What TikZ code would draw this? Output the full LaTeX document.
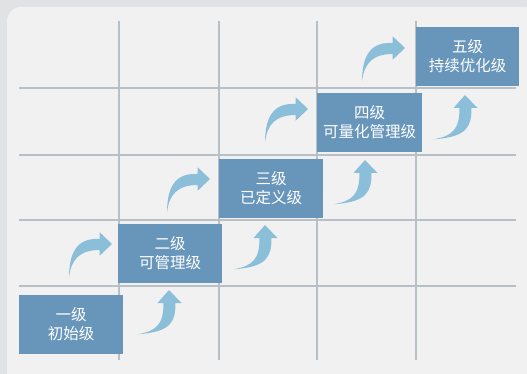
\documentclass[tikz,border=0pt]{standalone}
\usepackage{fontspec}
\newfontfamily\cjk{Noto Sans CJK SC}
\usepackage{tikz}

\definecolor{outerbg}{HTML}{E1E2E4}
\definecolor{panelbg}{HTML}{F1F1F1}
\definecolor{gridcol}{HTML}{B7C0C7}
\definecolor{boxcol}{HTML}{6896BB}
\definecolor{arrowcol}{HTML}{8BBED8}

\tikzset{
  levelbox/.style={fill=boxcol, text=white, anchor=north west, inner sep=0pt,
    minimum width=104pt, minimum height=58.5pt, align=center,
    font=\cjk\fontsize{15.5}{19}\selectfont},
  gridline/.style={draw=gridcol, line width=1.5pt},
  uparrow/.pic={
    \fill[arrowcol] (0,0) -- (12.5,13) -- (6.5,13)
      .. controls (6.5,32) and (2,42) .. (-31.6,44.3)
      .. controls (-12,41) and (-5.5,34) .. (-5.5,13)
      -- (-11.5,13) -- cycle;
  },
  rightarrow/.pic={
    \fill[arrowcol] (0,0) -- (-12.3,-11.7) -- (-12.3,-5)
      .. controls (-30,-6) and (-43,2) .. (-43,33.7)
      .. controls (-41,15) and (-32,6) .. (-12.3,6)
      -- (-12.3,11.7) -- cycle;
  }
}

\begin{document}
\begin{tikzpicture}[x=1pt, y=-1pt]
  \useasboundingbox (0,0) rectangle (527,374);
  \clip (0,0) rectangle (527,374);
  \fill[outerbg] (0,0) rectangle (527,374);
  \fill[panelbg, rounded corners=14pt] (7,7) rectangle (540,388);

  % grid
  \foreach \gx in {119,219,317,416}
    \draw[gridline] (\gx,21) -- (\gx,360);
  \foreach \gy in {88,155,220,286}
    \draw[gridline] (19,\gy) -- (516,\gy);

  % levels
  \node[levelbox] (l1) at (19,295) {一级\\初始级};
  \node[levelbox] (l2) at (118,224) {二级\\可管理级};
  \node[levelbox] (l3) at (219,159) {三级\\已定义级};
  \node[levelbox, minimum width=105pt] (l4) at (317,93) {四级\\可量化管理级};
  \node[levelbox, minimum width=103pt] (l5) at (416,27) {五级\\持续优化级};

  % arrows
  \pic at (169,290) {uparrow};
  \pic at (265,225) {uparrow};
  \pic at (365,160) {uparrow};
  \pic at (465,95) {uparrow};

  \pic at (112,244) {rightarrow};
  \pic at (210,179) {rightarrow};
  \pic at (308,109) {rightarrow};
  \pic at (405,48) {rightarrow};
\end{tikzpicture}
\end{document}
